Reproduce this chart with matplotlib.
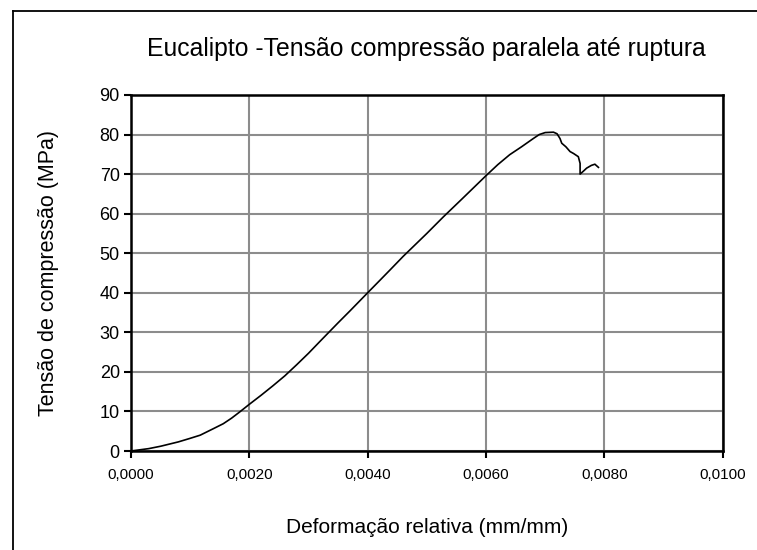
import matplotlib.pyplot as plt
from matplotlib.ticker import FuncFormatter, MultipleLocator
from matplotlib.lines import Line2D

plt.rcParams['font.family'] = ['Liberation Sans', 'DejaVu Sans']

# --- DATA: compression test curve (strain vs stress) ---
deformacao = [0.0, 0.0003, 0.0005, 0.0008, 0.0010, 0.00117, 0.0014, 0.00156,
              0.0017, 0.00184, 0.0020, 0.0022, 0.0024, 0.0026, 0.0028,
              0.0030, 0.0032, 0.0035, 0.0037, 0.0040, 0.00421, 0.00438,
              0.0046, 0.0050, 0.00528, 0.0056, 0.0060, 0.0062, 0.0064,
              0.0066, 0.0068, 0.0069, 0.0070, 0.00714, 0.0072, 0.00725,
              0.00728, 0.00735, 0.00742, 0.00748, 0.00756, 0.00759, 0.00759,
              0.00765, 0.0077, 0.00778, 0.00784, 0.0079]
tensao = [0.0, 0.6, 1.2, 2.3, 3.2, 4.0, 5.7, 6.9,
          8.3, 9.9, 11.8, 14.1, 16.5, 19.0, 21.8,
          24.7, 27.8, 32.4, 35.4, 40.0, 43.2, 45.8,
          49.2, 55.0, 59.2, 63.8, 69.6, 72.4, 74.9,
          76.9, 79.0, 80.0, 80.5, 80.6, 80.2, 79.0,
          77.8, 76.9, 75.7, 75.2, 74.4, 72.7, 70.0,
          70.8, 71.5, 72.2, 72.5, 71.7]

titulo = 'Eucalipto -Tensão compressão paralela até ruptura'
xlabel = 'Deformação relativa (mm/mm)'
ylabel = 'Tensão de compressão (MPa)'

# --- FIGURE ---
fig = plt.figure(figsize=(7.57, 5.5), dpi=100)
ax = fig.add_axes([0.173, 0.18, 0.7817, 0.6473])

ax.plot(deformacao, tensao, color='black', lw=1.2)

ax.set_xlim(0, 0.01)
ax.set_ylim(0, 90)
ax.xaxis.set_major_locator(MultipleLocator(0.002))
ax.yaxis.set_major_locator(MultipleLocator(10))
ax.xaxis.set_major_formatter(FuncFormatter(lambda v, p: f'{v:.4f}'.replace('.', ',')))
ax.grid(True, color='#8c8c8c', lw=1.5)
ax.set_axisbelow(True)

for s in ax.spines.values():
    s.set_color('black')
    s.set_linewidth(1.8)

ax.tick_params(axis='both', direction='out', length=5, width=1.5, color='black')
ax.tick_params(axis='x', labelsize=11, pad=7)
ax.tick_params(axis='y', labelsize=13, pad=3)

ax.set_title(titulo, fontsize=17.8, pad=28)
ax.set_xlabel(xlabel, fontsize=15, labelpad=26)
ax.set_ylabel(ylabel, fontsize=15.5, labelpad=29)

# outer chart frame (left and top edges visible)
fig.add_artist(Line2D([12.5 / 757, 12.5 / 757], [0, 1 - 10.5 / 550], color='black', lw=1.3))
fig.add_artist(Line2D([12.5 / 757, 1], [1 - 10.5 / 550, 1 - 10.5 / 550], color='black', lw=1.3))

fig.savefig('out.png', dpi=100)
